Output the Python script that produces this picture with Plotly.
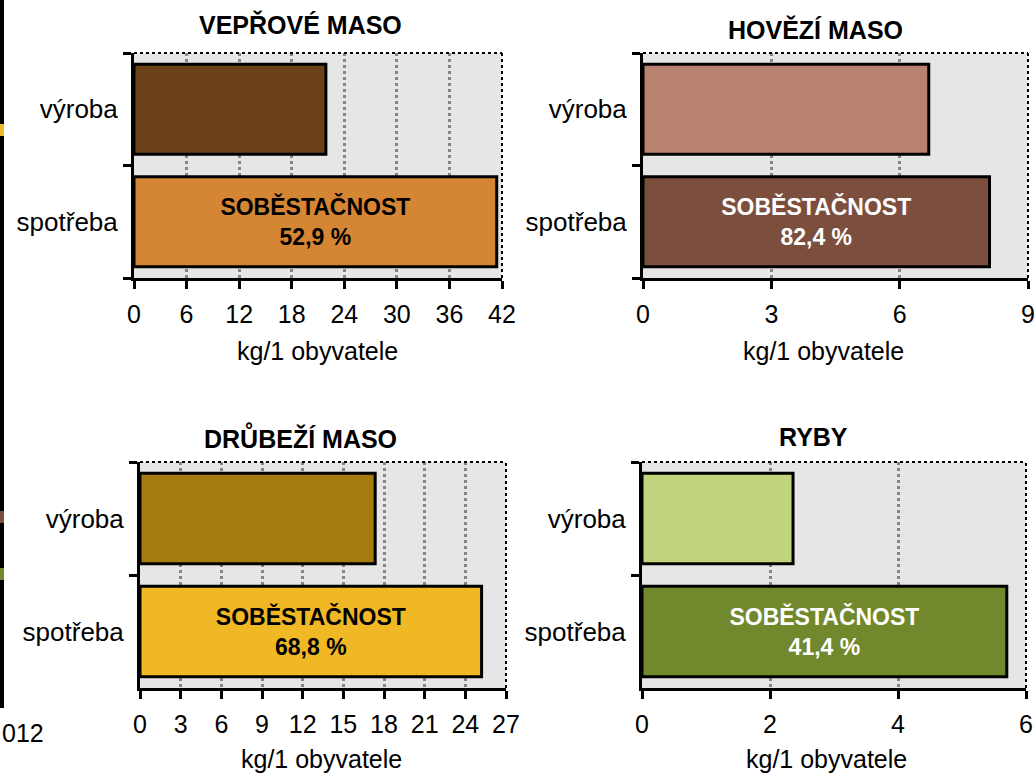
import plotly.graph_objects as go

W, H = 1036, 776

# ---- data ----
categories = ["výroba", "spotřeba"]
titles = ["VEPŘOVÉ MASO", "HOVĚZÍ MASO", "DRŮBEŽÍ MASO", "RYBY"]
veprove = [21.9, 41.4]
hovezi = [6.68, 8.1]
drubezi = [17.35, 25.2]
ryby = [2.36, 5.7]
sobestacnost = [52.9, 82.4, 68.8, 41.4]
x_max = [42, 9, 27, 6]
x_dtick = [6, 3, 3, 2]
axis_title = "kg/1 obyvatele"
side_label = "012"

series = [veprove, hovezi, drubezi, ryby]
colors = [["#6B4118", "#D58634"], ["#B98170", "#7B4E3E"],
          ["#A67C10", "#EFB824"], ["#C0D47D", "#72882C"]]
text_colors = ["black", "white", "black", "white"]

# ---- layout (pixels) ----
panels = [((134, 502), (53, 278)), ((643, 1028), (53, 278)),
          ((140, 506), (462, 688)), ((642, 1026), (462, 688))]
title_pos = [(300, 24), (815, 30), (300, 437), (813, 437)]
xtitle_pos = [(317, 351), (823, 351), (321, 759), (826, 759)]

FONT = "Liberation Sans, Arial, sans-serif"


def px(x):
    return x / W


def py(y):
    return 1 - y / H


fig = go.Figure()
annotations = []
shapes = []

for i in range(4):
    n = "" if i == 0 else str(i + 1)
    xa, ya = "x" + n, "y" + n
    vals = series[i]
    txt = ["", "SOBĚSTAČNOST<br>" + f"{sobestacnost[i]:.1f}".replace(".", ",") + " %"]
    fig.add_trace(go.Bar(
        x=vals, y=categories, orientation="h", xaxis=xa, yaxis=ya,
        marker=dict(color=colors[i], line=dict(color="black", width=3)),
        text=txt, textposition="inside", insidetextanchor="middle",
        textangle=0, constraintext="none",
        textfont=dict(family=FONT, size=23, color=text_colors[i], weight="bold"),
        hoverinfo="skip", showlegend=False,
    ))
    (x0, x1), (y0, y1) = panels[i]
    fig.layout["xaxis" + n] = dict(
        domain=[px(x0), px(x1)], anchor=ya, range=[0, x_max[i]], dtick=x_dtick[i],
        tick0=0, showgrid=True, gridcolor="#858585", gridwidth=2.5, griddash="dot",
        zeroline=False, showline=True, linecolor="black", linewidth=3,
        ticks="outside", ticklen=8, tickwidth=2.5, tickcolor="black",
        ticklabelstandoff=4, ticklabeloverflow="allow", automargin=False,
        tickfont=dict(family=FONT, size=25, color="black"), fixedrange=True,
    )
    fig.layout["yaxis" + n] = dict(
        domain=[py(y1), py(y0)], anchor=xa, type="category",
        categoryorder="array", categoryarray=categories[::-1],
        tickson="boundaries", showgrid=False, zeroline=False,
        showline=True, linecolor="black", linewidth=3,
        ticks="outside", ticklen=8, tickwidth=2.5, tickcolor="black",
        ticklabelstandoff=8, automargin=False,
        tickfont=dict(family=FONT, size=26, color="black"), fixedrange=True,
    )
    # dotted top/right border
    shapes.append(dict(type="line", xref=xa + " domain", yref=ya + " domain",
                       x0=0, x1=1, y0=1, y1=1,
                       line=dict(color="black", width=2, dash="dot")))
    shapes.append(dict(type="line", xref=xa + " domain", yref=ya + " domain",
                       x0=1, x1=1, y0=0, y1=1,
                       line=dict(color="black", width=2, dash="dot")))
    tx, ty = title_pos[i]
    annotations.append(dict(text="<b>" + titles[i] + "</b>", xref="paper", yref="paper",
                            x=px(tx), y=py(ty), xanchor="center", yanchor="middle",
                            showarrow=False, font=dict(family=FONT, size=25, color="black")))
    ax, ay = xtitle_pos[i]
    annotations.append(dict(text=axis_title, xref="paper", yref="paper",
                            x=px(ax), y=py(ay), xanchor="center", yanchor="middle",
                            showarrow=False, font=dict(family=FONT, size=25, color="black")))

# cropped fragment of a neighbouring chart at the left edge
shapes.append(dict(type="rect", xref="paper", yref="paper", x0=0, x1=px(4),
                   y0=py(708), y1=1, fillcolor="black", line=dict(width=0)))
for yc, col in [(130, "#EFB824"), (517, "#7B4E3E"), (574, "#72882C")]:
    shapes.append(dict(type="rect", xref="paper", yref="paper", x0=0, x1=px(4),
                       y0=py(yc + 6), y1=py(yc - 6), fillcolor=col, line=dict(width=0)))
annotations.append(dict(text=side_label, xref="paper", yref="paper", x=0, y=py(733),
                        xanchor="left", yanchor="middle", showarrow=False,
                        font=dict(family=FONT, size=25, color="black")))

fig.update_layout(
    width=W, height=H, margin=dict(l=0, r=0, t=0, b=0, autoexpand=False),
    paper_bgcolor="white", plot_bgcolor="#E6E6E6",
    bargap=0.2, shapes=shapes, annotations=annotations,
    font=dict(family=FONT, color="black"),
)

fig.write_html(
    "out.html",
    config={"displayModeBar": False},
    post_script="document.body.style.margin='0';document.body.style.padding='0';"
                "document.body.style.overflow='hidden';",
)
